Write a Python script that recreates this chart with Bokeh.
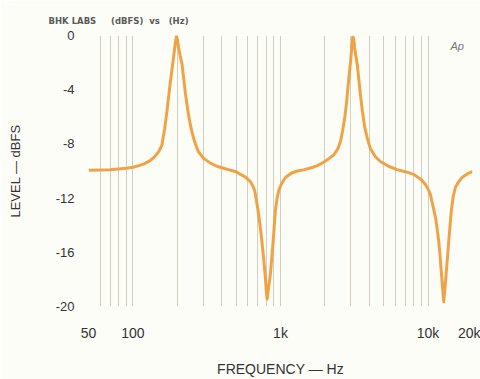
from bokeh.plotting import figure
from bokeh.models import Range1d, FixedTicker, Label
from bokeh.embed import file_html
from bokeh.resources import INLINE

# ---- data ----
freq_hz = [50, 60, 70, 80, 90, 100, 110, 120, 130, 140, 150, 157, 164, 170, 175, 180, 184, 188,
           192, 195, 197, 200, 204, 209, 215, 221, 227, 236, 245, 255, 262, 270, 279, 300, 335,
           370, 413, 460, 500, 535, 580, 626, 650, 670, 695, 715, 731, 748, 763, 778, 791, 802,
           812, 822, 833, 845, 855, 873, 892, 908, 925, 948, 974, 1000, 1040, 1080, 1190, 1300,
           1450, 1600, 1780, 1960, 2150, 2300, 2450, 2550, 2640, 2730, 2800, 2860, 2920, 2980,
           3040, 3090, 3130, 3180, 3240, 3310, 3390, 3480, 3590, 3710, 3880, 4070, 4400, 4750,
           5400, 6170, 7000, 8000, 9000, 9600, 10100, 10400, 10700, 11000, 11220, 11500, 11810,
           12060, 12320, 12550, 12770, 13000, 13260, 13530, 13800, 14100, 14400, 14800, 15330,
           16100, 17000, 18500, 20000]
level_dbfs = [-9.95, -9.93, -9.9, -9.85, -9.8, -9.72, -9.6, -9.45, -9.25, -8.95, -8.55, -8.1,
              -6.9, -5.6, -4.4, -3.3, -2.5, -1.7, -0.9, -0.35, -0.05, -0.3, -0.9, -1.5, -2.1,
              -3.2, -4.3, -5.6, -6.6, -7.4, -7.85, -8.25, -8.6, -9.05, -9.42, -9.65, -9.8, -9.95,
              -10.05, -10.25, -10.45, -10.8, -11.1, -11.5, -12.5, -13.4, -14.25, -15.2, -16.1,
              -17.1, -18.0, -18.9, -19.45, -19.0, -18.5, -18.0, -17.55, -16.4, -15.2, -14.0,
              -12.84, -12.0, -11.43, -11.1, -10.75, -10.48, -10.15, -10.0, -9.9, -9.78, -9.6,
              -9.35, -9.05, -8.8, -8.35, -7.8, -7.0, -6.0, -5.0, -3.9, -2.9, -2.0, -0.9, -0.1,
              -0.2, -0.9, -1.5, -2.1, -3.2, -4.36, -5.6, -6.7, -7.6, -8.36, -8.95, -9.3, -9.65,
              -9.9, -10.05, -10.25, -10.65, -11.0, -11.43, -11.8, -12.4, -13.0, -13.4, -14.2,
              -15.2, -16.3, -17.55, -18.7, -19.65, -18.7, -17.55, -16.4, -15.2, -14.0, -12.84,
              -11.9, -11.2, -10.8, -10.48, -10.2, -10.05]

x_ticks = [50, 100, 1000, 10000, 20000]
x_tick_labels = ["50", "100", "1k", "10k", "20k"]
y_ticks = [0, -4, -8, -12, -16, -20]
y_tick_labels = ["0", "-4", "-8", "-12", "-16", "-20"]
grid_freqs = [50, 60, 70, 80, 90, 100, 200, 300, 400, 500, 600, 700, 800, 900, 1000,
              2000, 3000, 4000, 5000, 6000, 7000, 8000, 9000, 10000, 20000]

BG = "#FDFDF8"
FONT = "Liberation Sans"
NB = "\u00a0"

p = figure(width=480, height=379, x_axis_type="log", output_backend="svg",
           toolbar_location=None, x_range=Range1d(50, 20000), y_range=Range1d(-20, 0),
           min_border_left=88, min_border_right=8, min_border_top=35, min_border_bottom=61,
           background_fill_color=BG, border_fill_color=BG)
p.outline_line_color = None

p.line(freq_hz, level_dbfs, line_color="#EE9E3C", line_width=3, line_alpha=0.95,
       line_join="round")

# grid
p.ygrid.visible = False
p.xgrid.ticker = FixedTicker(ticks=grid_freqs)
p.xgrid.grid_line_color = "#D2CEC2"
p.xgrid.grid_line_width = 1

# axes
for ax in (p.xaxis[0], p.yaxis[0]):
    ax.axis_line_color = None
    ax.major_tick_line_color = None
    ax.minor_tick_line_color = None
    ax.major_tick_out = 0
    ax.major_tick_in = 0
    ax.major_label_text_font = FONT
    ax.major_label_text_color = "#333333"
    ax.axis_label_text_font = FONT
    ax.axis_label_text_font_style = "normal"
    ax.axis_label_text_color = "#333333"

p.xaxis.ticker = FixedTicker(ticks=x_ticks)
p.xaxis.major_label_overrides = {t: l for t, l in zip(x_ticks, x_tick_labels)}
p.xaxis.major_label_text_font_size = "14px"
p.xaxis.major_label_standoff = 18
p.xaxis.axis_label = "FREQUENCY — Hz"
p.xaxis.axis_label_text_font_size = "14px"
p.xaxis.axis_label_standoff = 17

p.yaxis.ticker = FixedTicker(ticks=y_ticks)
p.yaxis.major_label_overrides = {t: l for t, l in zip(y_ticks, y_tick_labels)}
p.yaxis.major_label_text_font_size = "13px"
p.yaxis.major_label_standoff = 14
p.yaxis.axis_label = "LEVEL — dBFS"
p.yaxis.axis_label_text_font_size = "13px"
p.yaxis.axis_label_standoff = 30

# header text
p.title.text = "BHK LABS" + NB * 5 + "(dBFS)" + NB * 2 + "vs" + NB * 3 + "(Hz)"
p.title.text_font = "DejaVu Sans"
p.title.text_font_style = "bold"
p.title.text_font_size = "8.5px"
p.title.text_color = "#5A5A5A"
p.title.align = "left"
p.title.offset = -40
p.title.standoff = 19

p.add_layout(Label(x=20000, y=0, x_offset=-22, y_offset=-10, text="Ap",
                   text_font=FONT, text_font_style="italic", text_font_size="11px",
                   text_color="#777777", text_baseline="middle", text_align="left"))

open("out.html", "w").write(file_html(p, INLINE))
